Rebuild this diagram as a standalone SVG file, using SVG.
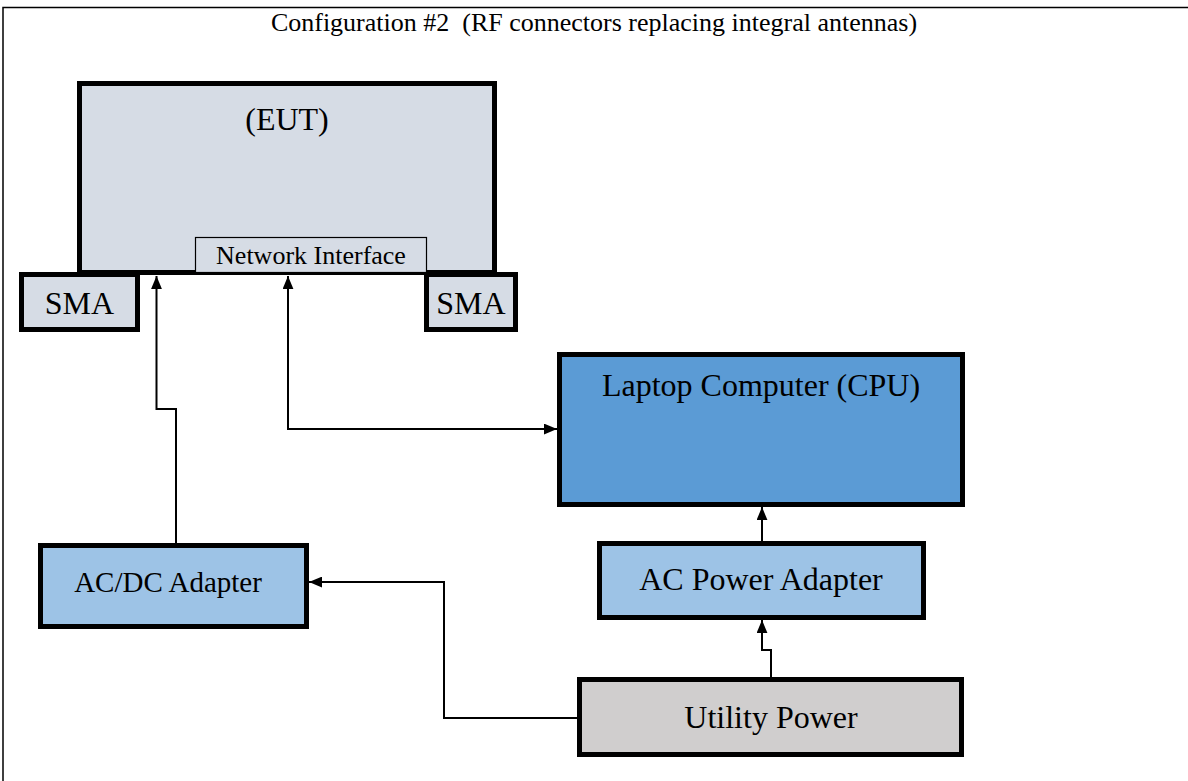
<svg xmlns="http://www.w3.org/2000/svg" width="1188" height="781" viewBox="0 0 1188 781">
<defs>
<marker id="arr" viewBox="0 0 12 10" refX="12" refY="5" markerWidth="13" markerHeight="11" markerUnits="userSpaceOnUse" orient="auto-start-reverse">
<path d="M0,0 L12,5 L0,10 z" fill="#000"/>
</marker>
<style>
text{font-family:"Liberation Serif","Times New Roman",serif;fill:#000;text-anchor:middle}
.box{stroke:#000;stroke-width:5}
.eut{fill:#d6dce5}
.lap{fill:#5b9bd5}
.ad{fill:#9dc3e6}
.ut{fill:#d0cece}
.lbl{font-size:32px}
.conn{fill:none;stroke:#000;stroke-width:2}
</style>
</defs>
<rect x="3" y="7.5" width="1200" height="800" fill="#fff" stroke="#000" stroke-width="1.5"/>
<text x="594" y="31" style="font-size:26px">Configuration #2&#160; (RF connectors replacing integral antennas)</text>
<g id="eut">
<rect class="box eut" x="79.5" y="83.5" width="415" height="189"/>
<text class="lbl" x="287" y="130">(EUT)</text>
</g>
<g id="netif">
<rect x="195.5" y="237.5" width="231" height="35" fill="#d6dce5" stroke="#000" stroke-width="1.2"/>
<text x="311" y="264" style="font-size:26px">Network Interface</text>
</g>
<g id="sma-left">
<rect class="box eut" x="21.5" y="274.5" width="116" height="55"/>
<text class="lbl" x="79.5" y="314">SMA</text>
</g>
<g id="sma-right">
<rect class="box eut" x="426.5" y="274.5" width="89" height="55"/>
<text class="lbl" x="471" y="314">SMA</text>
</g>
<g id="laptop">
<rect class="box lap" x="559.5" y="354.5" width="403" height="150"/>
<text class="lbl" x="761" y="396">Laptop Computer (CPU)</text>
</g>
<g id="acdc">
<rect class="box ad" x="40.5" y="545.5" width="266" height="81"/>
<text x="168" y="592" style="font-size:29px">AC/DC Adapter</text>
</g>
<g id="acpower">
<rect class="box ad" x="599.5" y="543.5" width="324" height="74"/>
<text class="lbl" x="761" y="590">AC Power Adapter</text>
</g>
<g id="utility">
<rect class="box ut" x="579.5" y="679.5" width="382" height="75"/>
<text class="lbl" x="771" y="728">Utility Power</text>
</g>
<g id="connectors">
<path class="conn" d="M176,543 V409 H156.5 V276" marker-end="url(#arr)"/>
<path class="conn" d="M288,276 V429 H557" marker-start="url(#arr)" marker-end="url(#arr)"/>
<path class="conn" d="M577,718 H444 V582 H309" marker-end="url(#arr)"/>
<path class="conn" d="M771,677 V650 H762 V620" marker-end="url(#arr)"/>
<path class="conn" d="M762,541 V507" marker-end="url(#arr)"/>
</g>
</svg>
